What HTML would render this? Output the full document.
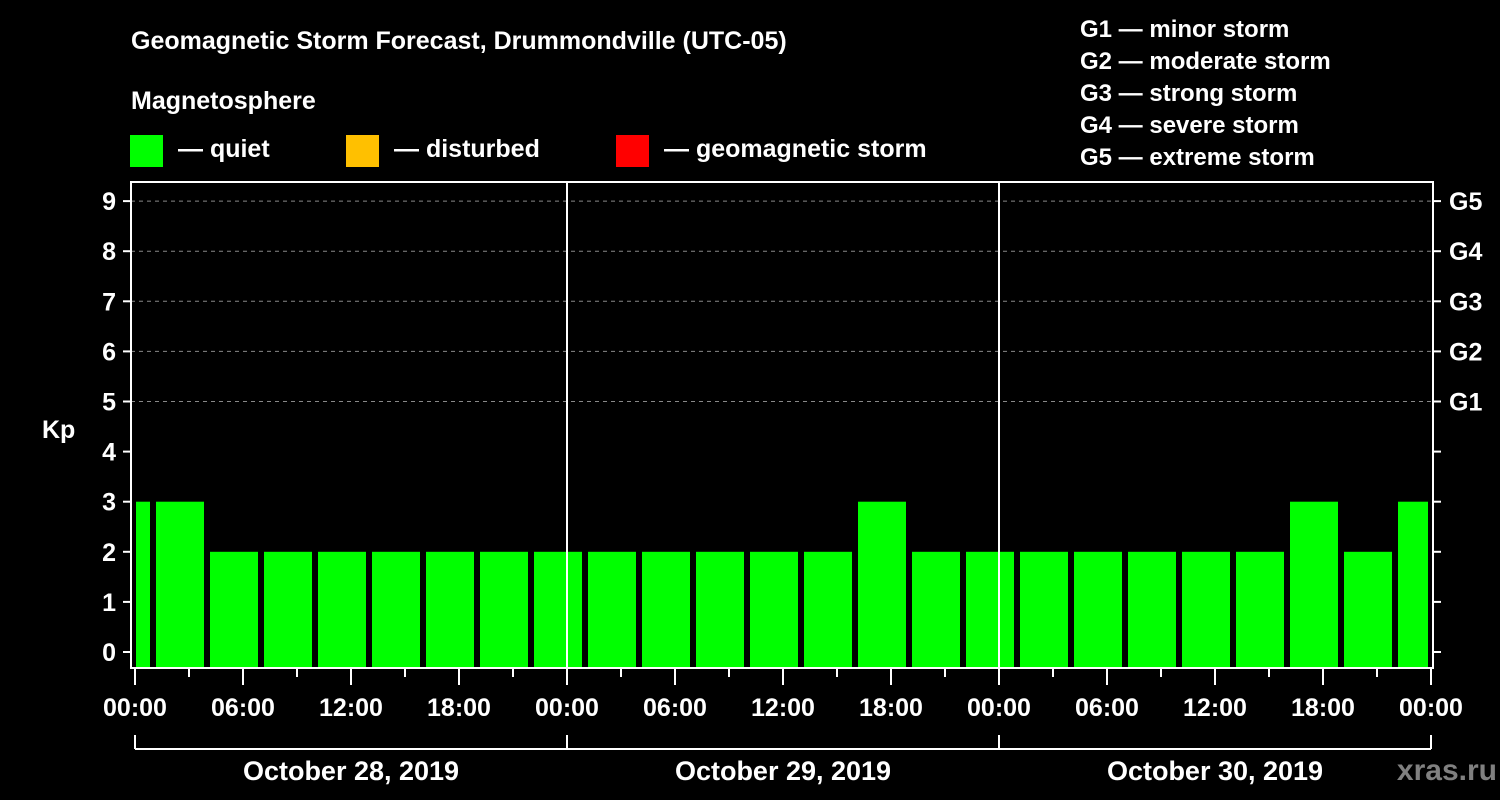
<!DOCTYPE html>
<html><head><meta charset="utf-8"><style>
html,body{margin:0;padding:0;background:#000;}
svg{display:block;font-family:"Liberation Sans",sans-serif;font-weight:bold;}
</style></head><body>
<svg id="chart" width="1500" height="800" viewBox="0 0 1500 800">
<rect width="1500" height="800" fill="#000"/>
<text x="131" y="49" fill="#fff" font-size="25">Geomagnetic Storm Forecast, Drummondville (UTC-05)</text>
<text x="131" y="109" fill="#fff" font-size="25">Magnetosphere</text>
<g><rect x="130" y="135" width="33" height="32" fill="#00ff00"/><text x="178" y="157" fill="#fff" font-size="25">— quiet</text></g>
<g><rect x="346" y="135" width="33" height="32" fill="#ffc000"/><text x="394" y="157" fill="#fff" font-size="25">— disturbed</text></g>
<g><rect x="616" y="135" width="33" height="32" fill="#ff0000"/><text x="664" y="157" fill="#fff" font-size="25">— geomagnetic storm</text></g>
<g fill="#fff" font-size="24">
<text x="1080" y="37">G1 — minor storm</text>
<text x="1080" y="69">G2 — moderate storm</text>
<text x="1080" y="101">G3 — strong storm</text>
<text x="1080" y="133">G4 — severe storm</text>
<text x="1080" y="165">G5 — extreme storm</text>
</g>
<text x="42" y="438" fill="#fff" font-size="25">Kp</text>
<g id="grid"></g><g id="bars"></g><g id="axes"></g>
<text x="1497" y="780" text-anchor="end" fill="#808080" font-size="30">xras.ru</text>
</svg>
<script>
const kpValues=[3,3,2,2,2,2,2,2,2,2,2,2,2,2,3,2,2,2,2,2,2,2,3,2,3];
const yTicks=[0,1,2,3,4,5,6,7,8,9];
const gLabels=["G1","G2","G3","G4","G5"];
const gLevels=[5,6,7,8,9];
const dayLabels=["October 28, 2019","October 29, 2019","October 30, 2019"];
const hourLabels=["00:00","06:00","12:00","18:00"];
const barStartHour=-2, barSpan=3, totalHours=72;
const NS="http://www.w3.org/2000/svg";
const X0=135, PXH=18, L=131, R=1433, T=182, B=668;
const x=h=>X0+h*PXH;
const y=v=>652-v*50.1;
function mk(tag,attrs,parent,txt){const e=document.createElementNS(NS,tag);for(const k in attrs)e.setAttribute(k,attrs[k]);if(txt!==undefined)e.textContent=txt;parent.appendChild(e);return e;}
const grid=document.getElementById('grid'),bars=document.getElementById('bars'),axes=document.getElementById('axes');
gLevels.forEach(v=>{const l=mk('line',{x1:L,x2:R,y1:y(v),y2:y(v),stroke:'#888','stroke-width':1,'stroke-dasharray':'4,4'},grid);

});
kpValues.forEach((v,i)=>{let h0=barStartHour+i*barSpan,h1=h0+barSpan;let x0=Math.max(x(h0)+3,x(0)+1),x1=Math.min(x(h1)-3,x(totalHours)-3);
const c=v>=5?'#ff0000':(v>=4?'#ffc000':'#00ff00');
const r=mk('rect',{x:x0,y:y(v),width:x1-x0,height:B-1-y(v),fill:c},bars);

});
const W={stroke:'#fff','stroke-width':2};
mk('rect',{x:L,y:T,width:R-L,height:B-T,fill:'none',stroke:'#fff','stroke-width':2},axes);
[24,48].forEach(h=>{const l=mk('line',Object.assign({x1:x(h),x2:x(h),y1:T,y2:B},W),axes);

});
yTicks.forEach(v=>{mk('line',Object.assign({x1:L-8,x2:L,y1:y(v),y2:y(v)},W),axes);mk('line',Object.assign({x1:R,x2:R+8,y1:y(v),y2:y(v)},W),axes);
const t=mk('text',{x:116,y:y(v)+9,fill:'#fff','font-size':25,'text-anchor':'end'},axes,String(v));

});
gLevels.forEach((v,i)=>{const t=mk('text',{x:1449,y:y(v)+9,fill:'#fff','font-size':25},axes,gLabels[i]);

});
for(let h=0;h<=totalHours;h+=3){const major=h%6===0;mk('line',Object.assign({x1:x(h),x2:x(h),y1:B,y2:B+(major?17:9)},W),axes);
if(major){const t=mk('text',{x:x(h),y:716,fill:'#fff','font-size':25,'text-anchor':'middle'},axes,hourLabels[(h/6)%4]);

}}
mk('line',Object.assign({x1:x(0),x2:x(72),y1:749,y2:749},W),axes);
for(let d=0;d<=3;d++)mk('line',Object.assign({x1:x(d*24),x2:x(d*24),y1:735,y2:749},W),axes);
dayLabels.forEach((s,d)=>{const t=mk('text',{x:x(d*24+12),y:780,fill:'#fff','font-size':27,'text-anchor':'middle'},axes,s);

});
</script>
</body></html>
